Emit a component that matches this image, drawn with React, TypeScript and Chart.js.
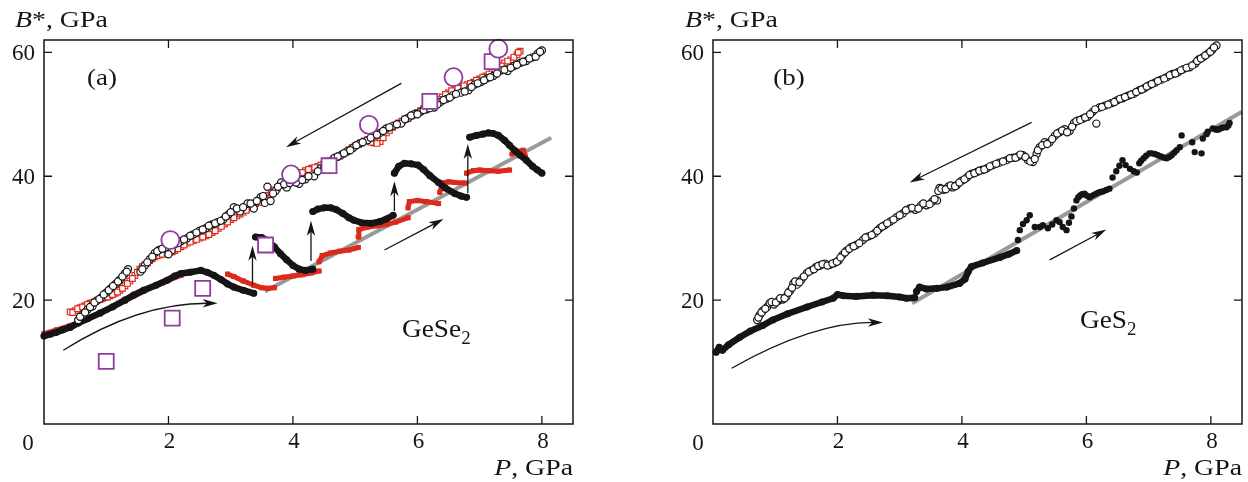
import React, { useEffect, useRef } from 'react';
import { Chart, registerables } from 'chart.js';
Chart.register(...registerables);

type Pt = [number, number];

// ---------------- Panel (a): GeSe2 ----------------
const gese2DecompCircles: Pt[] = [
  [0.55, 16.8], [0.62, 17.6], [0.7, 18.5], [0.78, 19.0], [0.85, 19.9], [0.92, 20.4], [1.0, 21.2], [1.07, 21.9],
  [1.15, 22.6], [1.22, 23.3], [1.3, 24.3], [1.35, 25.0], [1.55, 24.6], [1.62, 25.6], [1.7, 26.6], [1.78, 27.6],
  [1.85, 28.1], [1.95, 28.4], [2.05, 28.0], [2.1, 29.0], [2.2, 29.5], [2.3, 30.0], [2.4, 30.6], [2.5, 31.2],
  [2.6, 31.6], [2.7, 32.2], [2.79, 32.6], [2.88, 33.0], [2.96, 33.8], [3.05, 35.0], [3.15, 34.3], [3.27, 35.6],
  [3.37, 34.8], [3.48, 36.6], [3.55, 35.7], [3.59, 38.3], [3.64, 36.0], [3.72, 37.6], [3.81, 39.0], [3.9, 38.2],
  [4.0, 39.4], [4.1, 38.8], [4.2, 39.5], [4.34, 40.0], [4.45, 41.3], [4.55, 41.8], [4.67, 43.0], [4.77, 43.4],
  [4.87, 44.0], [4.97, 44.6], [5.07, 45.3], [5.2, 45.8], [5.3, 46.6], [5.4, 47.0], [5.5, 47.7], [5.6, 48.1],
  [5.74, 48.5], [5.85, 49.4], [5.95, 50.0], [6.05, 50.4], [6.15, 50.8], [6.27, 51.1], [6.37, 52.0], [6.47, 52.5],
  [6.57, 53.1], [6.7, 53.5], [6.82, 53.9], [6.92, 54.8], [7.02, 55.2], [7.12, 55.8], [7.22, 56.2], [7.35, 57.1],
  [7.45, 57.0], [7.55, 57.8], [7.65, 58.3], [7.75, 58.6], [7.85, 59.2], [7.93, 59.8], [8.0, 60.3],
];
const gese2DecompCircles2: Pt[] = [
  [0.58, 17.3], [0.66, 18.0], [0.74, 18.9], [0.81, 19.6], [0.89, 20.2], [0.96, 20.9], [1.04, 21.6], [1.11, 22.3],
  [1.19, 23.0], [1.26, 23.8], [1.33, 24.6], [1.58, 25.0], [1.66, 26.1], [1.74, 27.0], [1.82, 27.9], [1.9, 28.3],
  [2.0, 27.4], [2.15, 29.2], [2.25, 29.8], [2.35, 30.4], [2.45, 30.9], [2.55, 31.4], [2.65, 32.0], [2.75, 32.4],
  [2.84, 32.8], [2.92, 33.5], [3.0, 34.2], [3.1, 34.8], [3.2, 35.0], [3.32, 35.6], [3.42, 36.0], [3.52, 36.8],
  [3.68, 37.2], [3.76, 38.3], [3.86, 38.7], [3.95, 38.9], [4.05, 39.0], [4.15, 39.4], [4.25, 40.0], [4.4, 40.8],
  [4.5, 41.5], [4.6, 42.3], [4.72, 43.2], [4.82, 43.7], [4.92, 44.2], [5.02, 45.0], [5.12, 45.5], [5.25, 46.2],
  [5.35, 46.7], [5.45, 47.3], [5.55, 47.9], [5.67, 48.4], [5.8, 49.2], [5.9, 49.8], [6.0, 50.0], [6.1, 50.7],
  [6.2, 51.0], [6.32, 51.6], [6.42, 52.3], [6.52, 52.7], [6.62, 53.3], [6.76, 53.7], [6.87, 54.4], [6.97, 55.0],
  [7.07, 55.5], [7.17, 56.0], [7.28, 56.6], [7.4, 57.2], [7.5, 57.5], [7.6, 58.0], [7.7, 58.5], [7.8, 59.0],
  [7.9, 59.3], [7.97, 60.1],
];
const gese2DecompSquares: Pt[] = [
  [0.42, 18.1], [0.5, 18.3], [0.58, 18.8], [0.66, 19.1], [0.74, 19.5], [0.82, 19.8], [0.9, 20.1], [0.98, 20.4],
  [1.06, 20.7], [1.14, 21.1], [1.22, 21.6], [1.3, 22.3], [1.38, 23.1], [1.46, 24.0], [1.54, 25.0], [1.62, 25.7],
  [1.7, 26.4], [1.78, 27.0], [1.86, 27.3], [1.94, 27.5], [2.02, 27.7], [2.1, 28.0], [2.2, 28.6], [2.3, 29.2],
  [2.4, 29.6], [2.5, 30.0], [2.6, 30.4], [2.7, 30.9], [2.8, 31.6], [2.9, 32.3], [3.0, 33.0], [3.1, 33.6],
  [3.2, 34.2], [3.3, 34.9], [3.4, 35.6], [3.5, 36.1], [3.6, 36.9], [3.7, 37.8], [3.8, 38.5], [3.9, 39.1],
  [4.0, 39.8], [4.1, 40.4], [4.2, 40.9], [4.3, 41.3], [4.4, 41.6], [4.5, 42.1], [4.6, 42.5], [4.7, 43.0],
  [4.8, 43.6], [4.9, 44.3], [5.0, 44.9], [5.1, 45.4], [5.2, 45.9], [5.3, 45.4], [5.4, 45.6], [5.5, 47.0],
  [5.6, 47.9], [5.7, 48.6], [5.8, 49.2], [5.9, 49.7], [6.0, 50.3], [6.1, 50.9], [6.2, 51.5], [6.3, 52.1],
  [6.4, 52.8], [6.5, 53.5], [6.6, 54.0], [6.7, 54.4], [6.8, 54.8], [6.9, 55.2], [7.0, 55.7], [7.1, 56.2],
  [7.2, 56.8], [7.3, 57.4], [7.4, 58.3], [7.5, 58.8], [7.6, 59.6], [7.65, 60.2],
];
const gese2DecompSquares2: Pt[] = [
  [0.46, 18.0], [0.54, 18.6], [0.62, 18.9], [0.7, 19.3], [0.78, 19.6], [0.86, 20.0], [0.94, 20.3], [1.02, 20.5],
  [1.1, 20.9], [1.18, 21.3], [1.26, 21.9], [1.34, 22.7], [1.42, 23.5], [1.5, 24.5], [1.58, 25.4], [1.66, 26.0],
  [1.74, 26.7], [1.82, 27.2], [1.9, 27.4], [1.98, 27.6], [2.06, 27.8], [2.15, 28.3], [2.25, 28.9], [2.35, 29.4],
  [2.45, 29.8], [2.55, 30.2], [2.65, 30.6], [2.75, 31.2], [2.85, 31.9], [2.95, 32.6], [3.05, 33.3], [3.15, 33.9],
  [3.25, 34.5], [3.35, 35.2], [3.45, 35.8], [3.55, 36.5], [3.65, 37.3], [3.75, 38.1], [3.85, 38.8], [3.95, 39.5],
  [4.05, 40.1], [4.15, 40.6], [4.25, 41.1], [4.35, 41.4], [4.45, 41.8], [4.55, 42.3], [4.65, 42.8], [4.75, 43.3],
  [4.85, 43.9], [4.95, 44.6], [5.05, 45.1], [5.15, 45.7], [5.25, 45.5], [5.35, 45.3], [5.45, 46.2], [5.55, 47.4],
  [5.65, 48.3], [5.75, 48.9], [5.85, 49.4], [5.95, 50.0], [6.05, 50.6], [6.15, 51.2], [6.25, 51.8], [6.35, 52.4],
  [6.45, 53.2], [6.55, 53.8], [6.65, 54.2], [6.75, 54.6], [6.85, 55.0], [6.95, 55.5], [7.05, 56.0], [7.15, 56.5],
  [7.25, 57.1], [7.35, 57.8], [7.45, 58.6], [7.55, 59.2], [7.62, 60.0],
];
const gese2CompBlack: Pt[][] = [
  [[0.0, 14.2], [0.1, 14.5], [0.2, 14.8], [0.3, 15.2], [0.42, 15.6], [0.55, 16.3], [0.7, 17.0], [0.9, 17.9],
   [1.1, 18.9], [1.3, 20.0], [1.44, 20.8], [1.6, 21.6], [1.8, 22.4], [1.98, 23.2], [2.1, 23.9], [2.2, 24.3],
   [2.35, 24.5], [2.52, 24.8], [2.62, 24.5], [2.73, 24.0], [2.85, 23.3], [2.95, 22.6], [3.05, 22.1], [3.2, 21.6],
   [3.37, 21.1]],
  [[3.4, 30.2], [3.5, 30.1], [3.6, 29.6], [3.7, 28.6], [3.8, 27.5], [3.9, 26.5], [4.0, 25.6], [4.1, 25.0],
   [4.2, 24.8], [4.32, 25.0]],
  [[4.32, 34.3], [4.4, 34.7], [4.5, 34.9], [4.61, 34.9], [4.7, 34.6], [4.8, 34.0], [4.9, 33.3], [4.98, 32.9],
   [5.1, 32.5], [5.26, 32.4], [5.4, 32.7], [5.5, 33.1], [5.61, 33.7]],
  [[5.63, 40.5], [5.7, 41.6], [5.79, 42.1], [5.9, 42.0], [6.01, 41.8], [6.1, 41.1], [6.2, 40.1], [6.34, 39.0],
   [6.45, 38.1], [6.6, 37.2], [6.7, 36.8], [6.79, 36.6]],
  [[6.84, 46.3], [6.95, 46.6], [7.05, 46.8], [7.14, 47.0], [7.22, 46.9], [7.3, 46.6], [7.4, 45.8], [7.48, 45.0],
   [7.56, 44.2], [7.65, 43.4], [7.75, 42.6], [7.85, 41.6], [7.93, 41.0], [8.0, 40.5]],
];
const gese2CompRed: Pt[][] = [
  [[0.0, 14.6], [0.2, 15.2], [0.42, 15.9], [0.7, 17.0], [1.0, 18.4], [1.3, 19.9], [1.6, 21.4], [1.9, 22.8], [2.2, 24.0]],
  [[2.95, 24.2], [3.05, 23.8], [3.2, 23.1], [3.37, 22.4], [3.5, 22.0], [3.6, 21.9], [3.7, 22.0]],
  [[3.72, 23.5], [3.85, 23.7], [4.0, 23.9], [4.15, 24.1], [4.3, 24.4], [4.42, 24.7]],
  [[4.42, 26.2], [4.47, 27.2], [4.6, 27.6], [4.75, 27.9], [4.9, 28.1], [5.05, 28.5]],
  [[5.05, 30.2], [5.06, 31.4], [5.2, 31.8], [5.35, 32.0], [5.5, 32.2], [5.65, 32.6], [5.85, 33.3]],
  [[5.85, 34.9], [5.87, 35.9], [6.0, 36.1], [6.15, 35.9], [6.34, 35.6]],
  [[6.36, 37.4], [6.4, 38.9], [6.5, 39.1], [6.6, 39.0], [6.76, 38.9]],
  [[6.79, 40.5], [6.9, 40.9], [7.0, 41.0], [7.15, 40.9], [7.3, 40.8], [7.48, 41.0]],
  [[7.52, 43.6], [7.6, 44.0], [7.7, 44.2], [7.73, 43.3]],
];
const gese2RefCircles: Pt[] = [[2.03, 29.7], [3.97, 40.3], [5.22, 48.3], [6.58, 56.0], [7.3, 60.6]];
const gese2RefSquares: Pt[] = [[1.0, 10.1], [2.06, 17.1], [2.55, 21.9], [3.56, 28.9], [4.58, 41.7], [6.2, 52.1], [7.2, 58.5]];
const gese2Fit: Pt[] = [[3.55, 21.4], [8.15, 46.2]];
const gese2Arrows: [Pt, Pt][] = [
  [[5.74, 55.0], [3.89, 44.7]],
  [[5.47, 28.1], [6.42, 33.1]],
  [[3.35, 22.4], [3.35, 28.8]],
  [[4.29, 26.3], [4.29, 32.8]],
  [[5.63, 34.4], [5.63, 39.2]],
  [[6.81, 37.3], [6.81, 45.2]],
];
const gese2Curve: Pt[] = [[0.31, 11.9], [1.5, 19.5], [2.79, 19.5]];

// ---------------- Panel (b): GeS2 ----------------
const ges2DecompCircles: Pt[] = [
  [0.71, 16.8], [0.75, 17.6], [0.8, 18.3], [0.87, 18.9], [0.91, 19.5], [0.98, 19.3], [1.05, 19.9], [1.12, 20.1],
  [1.18, 20.6], [1.24, 21.5], [1.29, 22.7], [1.35, 22.5], [1.42, 23.3], [1.51, 24.4], [1.58, 24.8], [1.65, 25.3],
  [1.72, 25.6], [1.8, 25.9], [1.88, 25.7], [1.95, 26.0], [2.02, 26.4], [2.08, 27.3], [2.15, 28.0], [2.22, 28.6],
  [2.3, 28.9], [2.41, 29.7], [2.5, 30.3], [2.6, 30.8], [2.68, 31.6], [2.76, 32.1], [2.85, 32.7], [2.95, 33.4],
  [3.05, 34.0], [3.16, 34.8], [3.25, 34.6], [3.34, 35.3], [3.43, 35.3], [3.52, 35.9], [3.6, 36.1], [3.64, 38.1],
  [3.7, 37.8], [3.78, 38.3], [3.85, 38.2], [3.92, 38.6], [4.0, 39.3], [4.08, 39.8], [4.16, 40.4], [4.24, 40.7],
  [4.32, 41.0], [4.4, 41.3], [4.5, 41.8], [4.6, 42.2], [4.72, 42.6], [4.82, 43.0], [4.9, 43.2], [4.98, 43.4],
  [5.06, 42.6], [5.14, 42.3], [5.2, 43.6], [5.25, 44.7], [5.33, 45.5], [5.41, 45.5], [5.49, 46.5], [5.57, 47.1],
  [5.65, 47.6], [5.73, 47.3], [5.8, 48.6], [5.87, 49.0], [5.94, 49.3], [6.02, 49.6], [6.1, 50.4], [6.16, 48.5],
  [6.21, 51.1], [6.3, 51.4], [6.4, 51.8], [6.5, 52.3], [6.58, 52.6], [6.67, 53.0], [6.76, 53.3], [6.85, 53.9],
  [6.93, 54.2], [7.01, 54.7], [7.1, 55.1], [7.2, 55.6], [7.29, 56.0], [7.38, 56.5], [7.47, 56.8], [7.56, 57.3],
  [7.66, 57.6], [7.75, 58.2], [7.81, 58.9], [7.87, 59.2], [7.95, 59.8], [8.02, 60.4], [8.09, 61.1],
];
const ges2DecompCircles2: Pt[] = [
  [0.73, 17.2], [0.78, 18.0], [0.84, 18.6], [0.94, 19.7], [1.01, 19.6], [1.08, 20.3], [1.15, 20.3], [1.21, 21.2],
  [1.27, 22.0], [1.32, 23.0], [1.39, 22.9], [1.46, 23.8], [1.54, 24.6], [1.62, 25.0], [1.69, 25.5], [1.76, 25.8],
  [1.84, 25.6], [1.92, 25.9], [1.99, 26.2], [2.05, 26.9], [2.12, 27.7], [2.19, 28.3], [2.26, 28.7], [2.35, 29.2],
  [2.45, 30.1], [2.55, 30.5], [2.64, 31.2], [2.72, 31.9], [2.8, 32.4], [2.9, 33.0], [3.0, 33.7], [3.1, 34.5],
  [3.2, 34.9], [3.3, 34.8], [3.38, 35.6], [3.48, 35.5], [3.56, 36.3], [3.62, 37.6], [3.67, 38.0], [3.74, 37.9],
  [3.82, 38.5], [3.89, 38.4], [3.96, 39.0], [4.04, 39.5], [4.12, 40.2], [4.2, 40.5], [4.28, 40.9], [4.36, 41.1],
  [4.45, 41.6], [4.55, 42.0], [4.66, 42.4], [4.77, 42.9], [4.86, 43.0], [4.94, 43.5], [5.02, 43.1], [5.1, 42.4],
  [5.17, 42.8], [5.22, 44.2], [5.29, 45.0], [5.37, 45.2], [5.45, 46.0], [5.53, 46.9], [5.61, 47.4], [5.69, 47.1],
  [5.77, 48.0], [5.84, 48.9], [5.9, 49.1], [5.98, 49.5], [6.06, 50.0], [6.14, 50.8], [6.25, 51.2], [6.35, 51.6],
  [6.45, 52.0], [6.54, 52.5], [6.62, 52.8], [6.72, 53.2], [6.8, 53.6], [6.89, 54.0], [6.97, 54.5], [7.05, 54.9],
  [7.15, 55.4], [7.25, 55.8], [7.34, 56.3], [7.43, 56.6], [7.52, 57.1], [7.61, 57.5], [7.7, 57.9], [7.78, 58.6],
  [7.84, 59.0], [7.91, 59.5], [7.99, 60.1], [8.05, 60.8],
];
const ges2CompCurves: Pt[][] = [
  [[0.05, 11.6], [0.1, 12.4], [0.15, 11.9], [0.25, 12.8], [0.43, 14.0], [0.6, 15.0], [0.8, 15.9], [0.96, 16.8],
   [1.2, 17.8], [1.51, 18.9], [1.75, 19.7], [1.93, 20.3], [2.0, 20.9], [2.1, 20.7], [2.3, 20.6], [2.57, 20.8],
   [2.8, 20.7], [3.0, 20.5], [3.11, 20.3], [3.24, 20.4]],
  [[3.27, 21.4], [3.32, 22.1], [3.43, 21.8], [3.6, 21.9], [3.76, 22.1], [3.96, 22.7], [4.05, 23.4], [4.1, 24.6],
   [4.15, 25.4], [4.33, 26.0], [4.61, 26.9], [4.75, 27.4], [4.88, 28.0]],
];
const ges2CompScatter: Pt[] = [
  [4.9, 29.7], [4.93, 31.3], [4.98, 32.3], [5.04, 32.9], [5.09, 33.7], [5.17, 31.8], [5.25, 31.8], [5.3, 32.1],
  [5.38, 31.6], [5.45, 32.2], [5.52, 32.9], [5.57, 32.6], [5.62, 31.8], [5.68, 31.3], [5.72, 32.5], [5.76, 33.5],
  [5.8, 34.8], [5.84, 36.1], [5.87, 36.6], [5.9, 36.9], [5.93, 37.1], [5.97, 37.2], [6.0, 36.9], [6.05, 36.6],
  [6.08, 36.8], [6.12, 37.0], [6.16, 37.2], [6.2, 37.4], [6.24, 37.5], [6.28, 37.6], [6.32, 37.8], [6.37, 38.0],
  [6.42, 39.8], [6.48, 40.8], [6.53, 41.7], [6.58, 42.6], [6.63, 41.8], [6.7, 41.2], [6.76, 40.8], [6.81, 40.6],
  [6.85, 42.1], [6.88, 42.5], [6.92, 42.9], [6.96, 43.3], [7.01, 43.7], [7.05, 43.7], [7.1, 43.6], [7.15, 43.4],
  [7.2, 43.2], [7.25, 43.0], [7.29, 42.9], [7.33, 43.1], [7.37, 43.4], [7.41, 43.8], [7.45, 44.2], [7.5, 44.7],
  [7.53, 46.6], [7.7, 45.5], [7.74, 43.9], [7.85, 43.7], [7.87, 46.1], [7.93, 46.8], [7.95, 47.2], [8.03, 47.7],
  [8.07, 47.6], [8.1, 47.5], [8.13, 47.6], [8.17, 47.8], [8.21, 47.9], [8.25, 47.9], [8.28, 48.2], [8.3, 48.6],
];
const ges2Fit: Pt[] = [[3.2, 19.5], [8.5, 50.4]];
const ges2Arrows: [Pt, Pt][] = [
  [[5.12, 48.7], [3.16, 39.0]],
  [[5.41, 26.5], [6.32, 31.4]],
];
const ges2Curve: Pt[] = [[0.3, 9.0], [1.6, 16.4], [2.73, 16.4]];

// ---------------- Axes ----------------
const xTickValues = [0, 2, 4, 6, 8];
const yTickValues = [0, 20, 40, 60];
const topTickValues = [2, 4, 6];
const sideTickValues = [20, 40, 60];
const X_MAX = 8.5;
const Y_MAX = 62;

const RED = '#dc2b1c';
const PURPLE = '#8e3c9e';
const INK = '#151515';
const SERIF = '"Liberation Serif", "Times New Roman", serif';

const xy = (pts: Pt[]) => pts.map(([x, y]) => ({ x, y }));

type Part = { t: string; italic?: boolean; sub?: boolean };
type TextItem = { x: number; y: number; parts: Part[]; size: number; sx: number; align: 'left' | 'right' | 'center' };

function drawRich(ctx: CanvasRenderingContext2D, it: TextItem) {
  const font = (p: Part) => `${p.italic ? 'italic ' : ''}${p.sub ? Math.round(it.size * 0.68) : it.size}px ${SERIF}`;
  ctx.save();
  ctx.translate(it.x, it.y);
  ctx.scale(it.sx, 1);
  ctx.fillStyle = INK;
  ctx.textBaseline = 'alphabetic';
  ctx.textAlign = 'left';
  let total = 0;
  for (const p of it.parts) { ctx.font = font(p); total += ctx.measureText(p.t).width; }
  let cx = it.align === 'right' ? -total : it.align === 'center' ? -total / 2 : 0;
  for (const p of it.parts) {
    ctx.font = font(p);
    ctx.fillText(p.t, cx, p.sub ? it.size * 0.25 : 0);
    cx += ctx.measureText(p.t).width;
  }
  ctx.restore();
}

function arrowHead(ctx: CanvasRenderingContext2D, x: number, y: number, ang: number, len = 15, half = 4.2) {
  const c = Math.cos(ang), s = Math.sin(ang);
  ctx.beginPath();
  ctx.moveTo(x, y);
  ctx.lineTo(x - len * c - half * s, y - len * s + half * c);
  ctx.lineTo(x - len * 0.72 * c, y - len * 0.72 * s);
  ctx.lineTo(x - len * c + half * s, y - len * s - half * c);
  ctx.closePath();
  ctx.fill();
}

type PanelSpec = {
  left: number;
  width: number;
  rightPad: number;
  datasets: any[];
  arrows: [Pt, Pt][];
  curve: Pt[];
  texts: TextItem[];
  zeroX: number;
};

function makeFramePlugin(spec: PanelSpec) {
  return {
    id: 'frameAndNotes',
    afterDraw(chart: any) {
      const ctx: CanvasRenderingContext2D = chart.ctx;
      const { left, right, top, bottom } = chart.chartArea;
      const xs = chart.scales.x, ys = chart.scales.y;
      ctx.save();
      ctx.strokeStyle = INK;
      ctx.lineWidth = 1.5;
      ctx.strokeRect(left, top, right - left, bottom - top);
      ctx.lineWidth = 1.3;
      ctx.beginPath();
      for (const v of xTickValues) {
        if (v === 0) continue;
        const px = xs.getPixelForValue(v);
        ctx.moveTo(px, bottom); ctx.lineTo(px, bottom - 8);
      }
      for (const v of topTickValues) {
        const px = xs.getPixelForValue(v);
        ctx.moveTo(px, top); ctx.lineTo(px, top + 8);
      }
      for (const v of sideTickValues) {
        const py = ys.getPixelForValue(v);
        ctx.moveTo(left, py); ctx.lineTo(left + 8, py);
        ctx.moveTo(right, py); ctx.lineTo(right - 8, py);
      }
      ctx.stroke();

      ctx.fillStyle = INK;
      ctx.lineWidth = 1.3;
      for (const [a, b] of spec.arrows) {
        const x1 = xs.getPixelForValue(a[0]), y1 = ys.getPixelForValue(a[1]);
        const x2 = xs.getPixelForValue(b[0]), y2 = ys.getPixelForValue(b[1]);
        const ang = Math.atan2(y2 - y1, x2 - x1);
        ctx.beginPath();
        ctx.moveTo(x1, y1);
        ctx.lineTo(x2 - 10 * Math.cos(ang), y2 - 10 * Math.sin(ang));
        ctx.stroke();
        arrowHead(ctx, x2, y2, ang);
      }
      const [s, c, e] = spec.curve;
      const sx = xs.getPixelForValue(s[0]), sy = ys.getPixelForValue(s[1]);
      const cx = xs.getPixelForValue(c[0]), cy = ys.getPixelForValue(c[1]);
      const ex = xs.getPixelForValue(e[0]), ey = ys.getPixelForValue(e[1]);
      const ang = Math.atan2(ey - cy, ex - cx);
      ctx.beginPath();
      ctx.moveTo(sx, sy);
      ctx.quadraticCurveTo(cx, cy, ex - 10 * Math.cos(ang), ey - 10 * Math.sin(ang));
      ctx.stroke();
      arrowHead(ctx, ex, ey, ang);

      ctx.font = `23px ${SERIF}`;
      ctx.textAlign = 'center';
      ctx.textBaseline = 'alphabetic';
      ctx.fillText('0', spec.zeroX, 450);
      ctx.restore();

      for (const t of spec.texts) drawRich(ctx, t);
    },
  };
}

function Panel({ spec }: { spec: PanelSpec }) {
  const ref = useRef<HTMLCanvasElement>(null);
  useEffect(() => {
    if (!ref.current) return;
    const chart = new Chart(ref.current, {
      type: 'scatter',
      data: { datasets: spec.datasets },
      options: {
        responsive: false,
        animation: false,
        events: [],
        layout: { padding: { top: 40, right: spec.rightPad, left: 0, bottom: 0 } },
        plugins: { legend: { display: false }, tooltip: { enabled: false } },
        scales: {
          x: {
            type: 'linear', min: 0, max: X_MAX,
            afterFit: (s: any) => { s.height = 58; },
            afterBuildTicks: (s: any) => { s.ticks = xTickValues.map((v) => ({ value: v })); },
            grid: { display: false, drawTicks: false },
            border: { display: false },
            ticks: {
              autoSkip: false, padding: 4, labelOffset: 1, color: INK, maxRotation: 0,
              font: { family: SERIF, size: 23 },
              callback: (v: any) => (v === 0 ? '' : String(v)),
            },
          },
          y: {
            type: 'linear', min: 0, max: Y_MAX,
            afterFit: (s: any) => { s.width = 44; },
            afterBuildTicks: (s: any) => { s.ticks = yTickValues.map((v) => ({ value: v })); },
            grid: { display: false, drawTicks: false },
            border: { display: false },
            ticks: {
              autoSkip: false, padding: 9, labelOffset: 2, color: INK,
              font: { family: SERIF, size: 23 },
              callback: (v: any) => (v === 0 ? '' : String(v)),
            },
          },
        },
      } as any,
      plugins: [makeFramePlugin(spec)],
    });
    return () => chart.destroy();
  }, [spec]);
  return (
    <canvas
      ref={ref}
      width={spec.width}
      height={482}
      style={{ position: 'absolute', left: spec.left, top: 0, width: spec.width, height: 482 }}
    />
  );
}

const fitLine = (pts: Pt[]) => ({
  data: xy(pts), showLine: true, borderColor: '#9a9a9a', borderWidth: 4, pointRadius: 0, order: 20, clip: false,
});
const filledCurve = (pts: Pt[], color: string, style: string, width: number, order: number) => ({
  data: xy(pts), showLine: true, borderColor: color, borderWidth: width, borderCapStyle: 'round', borderJoinStyle: 'round',
  pointStyle: style, pointRadius: style === 'rect' ? 3.6 : width / 2 + 0.3, pointBackgroundColor: color, pointBorderColor: color,
  pointBorderWidth: 0, order, clip: false,
});
const openMarks = (pts: Pt[], color: string, style: string, radius: number, bw: number, order: number) => ({
  data: xy(pts), showLine: false, pointStyle: style, pointRadius: radius, pointBackgroundColor: '#ffffff',
  pointBorderColor: color, pointBorderWidth: bw, order, clip: false,
});

const specA: PanelSpec = {
  left: 0,
  width: 624,
  rightPad: 51,
  zeroX: 28,
  datasets: [
    openMarks(gese2RefCircles, PURPLE, 'circle', 9, 1.8, 1),
    openMarks(gese2RefSquares, PURPLE, 'rect', 10.6, 1.8, 1),
    openMarks([...gese2DecompCircles, ...gese2DecompCircles2], INK, 'circle', 3.6, 1.2, 5),
    openMarks([...gese2DecompSquares, ...gese2DecompSquares2], RED, 'rect', 4, 1.2, 6),
    ...gese2CompBlack.map((seg) => filledCurve(seg, INK, 'circle', 6.5, 7)),
    ...gese2CompRed.map((seg) => filledCurve(seg, RED, 'rect', 5, 8)),
    fitLine(gese2Fit),
  ],
  arrows: gese2Arrows,
  curve: gese2Curve,
  texts: [
    { x: 15, y: 27, parts: [{ t: 'B', italic: true }, { t: '*, GPa' }], size: 23, sx: 1.21, align: 'left' },
    { x: 573, y: 475, parts: [{ t: 'P', italic: true }, { t: ', GPa' }], size: 23, sx: 1.21, align: 'right' },
    { x: 102, y: 85, parts: [{ t: '(a)' }], size: 24, sx: 1.12, align: 'center' },
    { x: 402, y: 337, parts: [{ t: 'GeSe' }, { t: '2', sub: true }], size: 26, sx: 1.05, align: 'left' },
  ],
};

const specB: PanelSpec = {
  left: 669,
  width: 579,
  rightPad: 6,
  zeroX: 29,
  datasets: [
    openMarks([...ges2DecompCircles, ...ges2DecompCircles2], INK, 'circle', 3.6, 1.2, 5),
    ...ges2CompCurves.map((seg) => filledCurve(seg, INK, 'circle', 6.5, 7)),
    {
      data: xy(ges2CompScatter), showLine: false, pointRadius: 3.2, pointBackgroundColor: INK,
      pointBorderColor: INK, pointBorderWidth: 0, order: 7, clip: false,
    },
    fitLine(ges2Fit),
  ],
  arrows: ges2Arrows,
  curve: ges2Curve,
  texts: [
    { x: 685 - 669, y: 27, parts: [{ t: 'B', italic: true }, { t: '*, GPa' }], size: 23, sx: 1.21, align: 'left' },
    { x: 1242 - 669, y: 475, parts: [{ t: 'P', italic: true }, { t: ', GPa' }], size: 23, sx: 1.21, align: 'right' },
    { x: 789 - 669, y: 85, parts: [{ t: '(b)' }], size: 24, sx: 1.12, align: 'center' },
    { x: 1080 - 669, y: 328, parts: [{ t: 'GeS' }, { t: '2', sub: true }], size: 26, sx: 1.05, align: 'left' },
  ],
};

export default function App() {
  return (
    <div style={{ position: 'fixed', left: 0, top: 0, width: 1248, height: 482, background: '#ffffff', overflow: 'hidden' }}>
      <Panel spec={specA} />
      <Panel spec={specB} />
    </div>
  );
}
